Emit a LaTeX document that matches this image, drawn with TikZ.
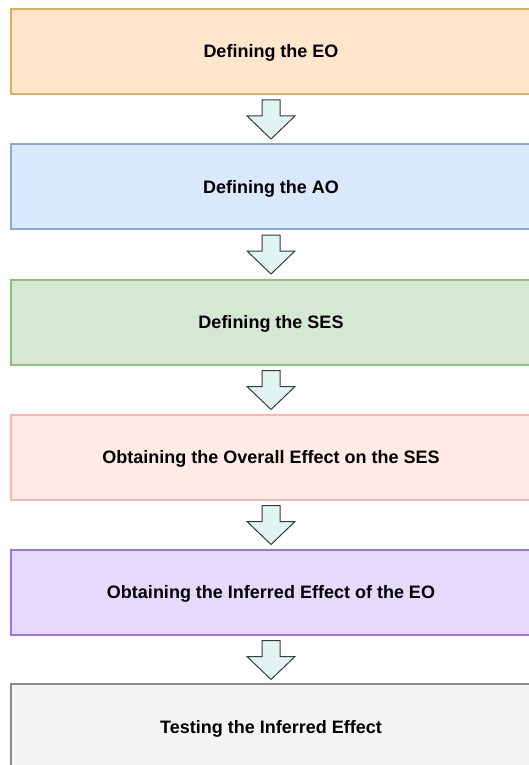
\documentclass[tikz,border=0pt]{standalone}
\usepackage{fontspec}
\setmainfont{Liberation Sans}
\usetikzlibrary{calc}

\definecolor{orangefill}{HTML}{FFE6CC}
\definecolor{orangeline}{HTML}{DDB05A}
\definecolor{bluefill}{HTML}{DAE8FC}
\definecolor{blueline}{HTML}{8BA7D4}
\definecolor{greenfill}{HTML}{D5E8D4}
\definecolor{greenline}{HTML}{8FBF78}
\definecolor{pinkfill}{HTML}{FFEBE6}
\definecolor{pinkline}{HTML}{FFB3B3}
\definecolor{purplefill}{HTML}{E4DAFB}
\definecolor{purpleline}{HTML}{A070E6}
\definecolor{grayfill}{HTML}{F4F4F4}
\definecolor{grayline}{HTML}{8A8A8A}
\definecolor{arrowfill}{HTML}{E0F4F1}
\definecolor{arrowline}{HTML}{3A3A3A}

\tikzset{
  % wide boxes running off the right edge; the trailing space keeps
  % the label centred on the arrows
  stepbox/.style={rectangle, line width=2pt, minimum width=540pt,
    minimum height=85pt, inner sep=0pt, text height=13pt, text depth=0pt,
    font=\fontsize{18}{22}\selectfont\bfseries,
    execute at end node=\hspace*{20pt}},
  flowarrow/.style={draw=arrowline, fill=arrowfill, line width=1pt,
    line join=miter},
  downarrow/.pic={
    \path[flowarrow] (-9,0) -- (9,0) -- (9,16) -- (24,16) -- (0,39)
      -- (-24,16) -- (-9,16) -- cycle;
  }
}

\begin{document}
\begin{tikzpicture}[x=1pt, y=-1pt]
  \useasboundingbox (0,0) rectangle (528,765);

  % process steps, top to bottom
  \node[stepbox, draw=orangeline, fill=orangefill] (eo)  at (281,51.5)  {Defining the EO};
  \node[stepbox, draw=blueline,   fill=bluefill]   (ao)  at (281,186.5) {Defining the AO};
  \node[stepbox, draw=greenline,  fill=greenfill]  (ses) at (281,322)   {Defining the SES};
  \node[stepbox, draw=pinkline,   fill=pinkfill]   (oe)  at (281,457)   {Obtaining the Overall Effect on the SES};
  \node[stepbox, draw=purpleline, fill=purplefill] (ie)  at (281,592)   {Obtaining the Inferred Effect of the EO};
  \node[stepbox, draw=grayline,   fill=grayfill]   (te)  at (281,726.5) {Testing the Inferred Effect};

  % block arrows between consecutive steps
  \foreach \a in {eo, ao, ses, oe, ie}
    \pic at ($(\a.south)+(-10,5)$) {downarrow};
\end{tikzpicture}
\end{document}
